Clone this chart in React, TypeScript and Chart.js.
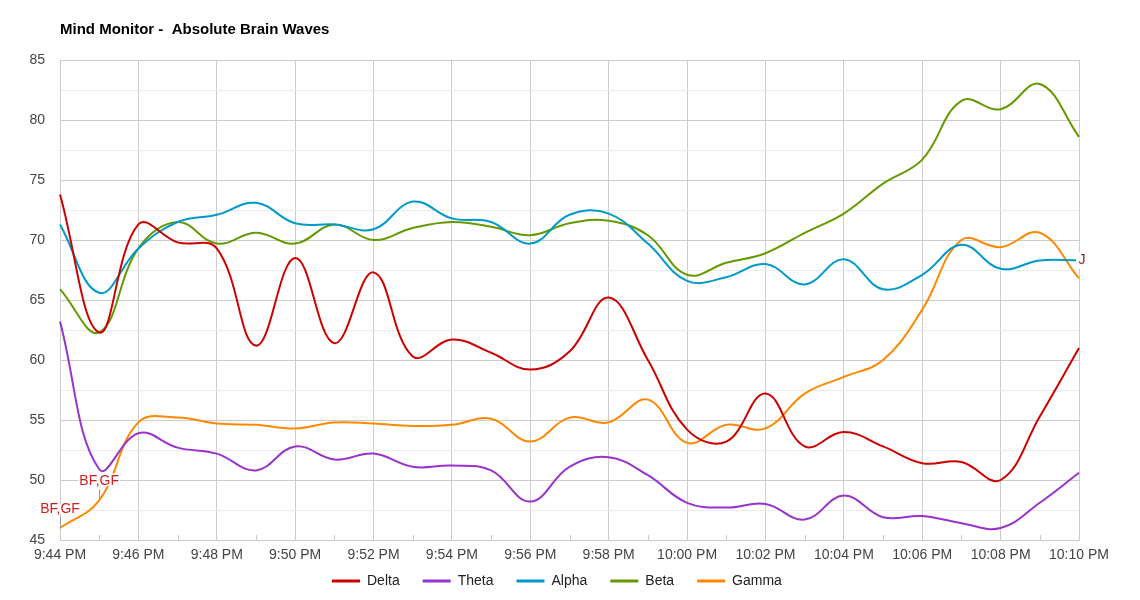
import React, { useEffect, useRef } from "react";
import { Chart, registerables } from "chart.js";

Chart.register(...registerables);

const timeLabels = [
  "9:44 PM", "9:45 PM", "9:46 PM", "9:47 PM", "9:48 PM", "9:49 PM", "9:50 PM",
  "9:51 PM", "9:52 PM", "9:53 PM", "9:54 PM", "9:55 PM", "9:56 PM", "9:57 PM",
  "9:58 PM", "9:59 PM", "10:00 PM", "10:01 PM", "10:02 PM", "10:03 PM", "10:04 PM",
  "10:05 PM", "10:06 PM", "10:07 PM", "10:08 PM", "10:09 PM", "10:10 PM",
];

const delta = [73.8, 62.3, 71.3, 69.8, 69.3, 61.2, 68.5, 61.4, 67.3, 60.3, 61.7, 60.6, 59.2, 60.7, 65.2, 60.0, 54.2, 53.2, 57.2, 52.8, 54.0, 52.8, 51.4, 51.5, 50.0, 55.3, 61.0];
const theta = [63.2, 50.9, 53.9, 52.7, 52.2, 50.8, 52.8, 51.7, 52.2, 51.1, 51.2, 50.8, 48.2, 51.1, 51.9, 50.4, 48.1, 47.7, 48.0, 46.7, 48.7, 46.9, 47.0, 46.4, 46.0, 48.1, 50.6];
const alpha = [71.3, 65.6, 69.3, 71.5, 72.1, 73.1, 71.4, 71.3, 70.9, 73.2, 71.8, 71.5, 69.7, 72.1, 72.2, 69.7, 66.6, 66.9, 68.0, 66.3, 68.4, 65.9, 67.1, 69.6, 67.6, 68.3, 68.3];
const beta = [65.9, 62.3, 69.3, 71.5, 69.7, 70.6, 69.7, 71.3, 70.0, 71.0, 71.5, 71.1, 70.4, 71.4, 71.6, 70.4, 67.1, 68.1, 68.9, 70.6, 72.2, 74.7, 76.7, 81.6, 80.9, 83.0, 78.6];
const gamma = [46.0, 48.3, 54.8, 55.2, 54.7, 54.6, 54.3, 54.8, 54.7, 54.5, 54.6, 55.1, 53.2, 55.2, 54.8, 56.7, 53.1, 54.6, 54.3, 57.2, 58.6, 60.0, 64.2, 70.0, 69.4, 70.6, 66.8];

const seriesNames = ["Delta", "Theta", "Alpha", "Beta", "Gamma"];
const seriesColors = ["#cc0000", "#9933cc", "#0099cc", "#669900", "#ff8800"];

const annotationSeries = ["Gamma", "Gamma", "Alpha"];
const annotationIndex = [0, 1, 26];
const annotationText = ["BF,GF", "BF,GF", "J"];

const FONT = "'Liberation Sans', Arial, sans-serif";

const customPlugin = {
  id: "custom",
  afterDraw(chart: any) {
    const ctx = chart.ctx;
    const area = chart.chartArea;
    const xs = chart.scales.x;
    const ys = chart.scales.y;
    ctx.save();
    // minor tick marks at odd minutes
    ctx.strokeStyle = "#cccccc";
    ctx.lineWidth = 1;
    for (let i = 1; i < timeLabels.length; i += 2) {
      const x = Math.round(xs.getPixelForValue(i)) + 0.5;
      ctx.beginPath();
      ctx.moveTo(x, area.bottom);
      ctx.lineTo(x, area.bottom - 5);
      ctx.stroke();
    }
    // title
    ctx.fillStyle = "#000000";
    ctx.font = "bold 15px " + FONT;
    ctx.textAlign = "left";
    ctx.textBaseline = "middle";
    ctx.fillText("Mind Monitor -  Absolute Brain Waves", area.left, 30);

    // annotations
    ctx.font = "14px " + FONT;
    ctx.textAlign = "center";
    ctx.textBaseline = "middle";
    for (let k = 0; k < annotationText.length; k++) {
      const dsIdx = seriesNames.indexOf(annotationSeries[k]);
      const ds = chart.data.datasets[dsIdx];
      const idx = annotationIndex[k];
      const px = xs.getPixelForValue(idx);
      const py = ys.getPixelForValue(ds.data[idx]);
      if (annotationText[k] === "J") {
        ctx.fillStyle = "#ffffff";
        ctx.fillRect(px - 3, py - 8, 10, 16);
        ctx.fillStyle = "#8b1a1a";
        ctx.fillText(annotationText[k], px + 3, py);
      } else {
        ctx.strokeStyle = "#999999";
        ctx.beginPath();
        ctx.moveTo(Math.round(px) + 0.5, py);
        ctx.lineTo(Math.round(px) + 0.5, py - 11);
        ctx.stroke();
        ctx.lineWidth = 3;
        ctx.strokeStyle = "#ffffff";
        ctx.strokeText(annotationText[k], px, py - 19);
        ctx.lineWidth = 1;
        ctx.fillStyle = "#cc1f1f";
        ctx.fillText(annotationText[k], px, py - 19);
      }
    }

    // legend
    ctx.font = "14px " + FONT;
    ctx.textAlign = "left";
    ctx.textBaseline = "middle";
    let lx = 332;
    const ly = 581;
    chart.data.datasets.forEach((ds: any) => {
      ctx.strokeStyle = ds.borderColor;
      ctx.lineWidth = 3;
      ctx.beginPath();
      ctx.moveTo(lx, ly);
      ctx.lineTo(lx + 28, ly);
      ctx.stroke();
      ctx.fillStyle = "#222222";
      ctx.fillText(ds.label, lx + 35, ly);
      lx += 35 + ctx.measureText(ds.label).width + 23;
    });
    ctx.restore();
  },
};

export default function App() {
  const ref = useRef<HTMLCanvasElement>(null);
  useEffect(() => {
    const seriesData = [delta, theta, alpha, beta, gamma];
    const chart = new Chart(ref.current as HTMLCanvasElement, {
      type: "line",
      data: {
        labels: timeLabels,
        datasets: seriesNames.map((n, i) => ({
          label: n,
          data: seriesData[i],
          borderColor: seriesColors[i],
          backgroundColor: seriesColors[i],
          borderWidth: 2,
          pointRadius: 0,
          tension: 0.4,
          fill: false,
        })),
      },
      options: {
        animation: false,
        responsive: false,
        devicePixelRatio: 1,
        layout: { padding: { top: 60, left: 0, right: 61, bottom: 0 } },
        plugins: {
          legend: { display: false },
          title: { display: false },
          tooltip: { enabled: false },
        },
        scales: {
          x: {
            type: "category",
            offset: false,
            afterFit: (s: any) => { s.height = 60; },
            grid: {
              color: (c: any) => (c.index % 2 === 0 ? "#cccccc" : "rgba(0,0,0,0)"),
              drawTicks: false,
            },
            border: { display: true, color: "#cccccc" },
            ticks: {
              autoSkip: false,
              maxRotation: 0,
              padding: 7,
              color: "#444444",
              font: { size: 14, family: FONT },
              callback: (_v: any, i: number) => (i % 2 === 0 ? timeLabels[i] : ""),
            },
          },
          y: {
            min: 45,
            max: 85,
            afterFit: (s: any) => { s.width = 60; },
            grid: {
              color: (c: any) => (c.tick && c.tick.value % 5 === 0 ? "#cccccc" : "#ebebeb"),
              drawTicks: false,
            },
            border: { display: true, color: "#cccccc" },
            ticks: {
              stepSize: 2.5,
              padding: 15,
              color: "#444444",
              font: { size: 14, family: FONT },
              callback: (v: any) => (Number(v) % 5 === 0 ? String(v) : ""),
            },
          },
        },
      },
      plugins: [customPlugin],
    });
    return () => chart.destroy();
  }, []);
  return (
    <div style={{ position: "fixed", left: 0, top: 0, width: 1140, height: 600, background: "#fff" }}>
      <canvas ref={ref} width={1140} height={600} />
    </div>
  );
}
